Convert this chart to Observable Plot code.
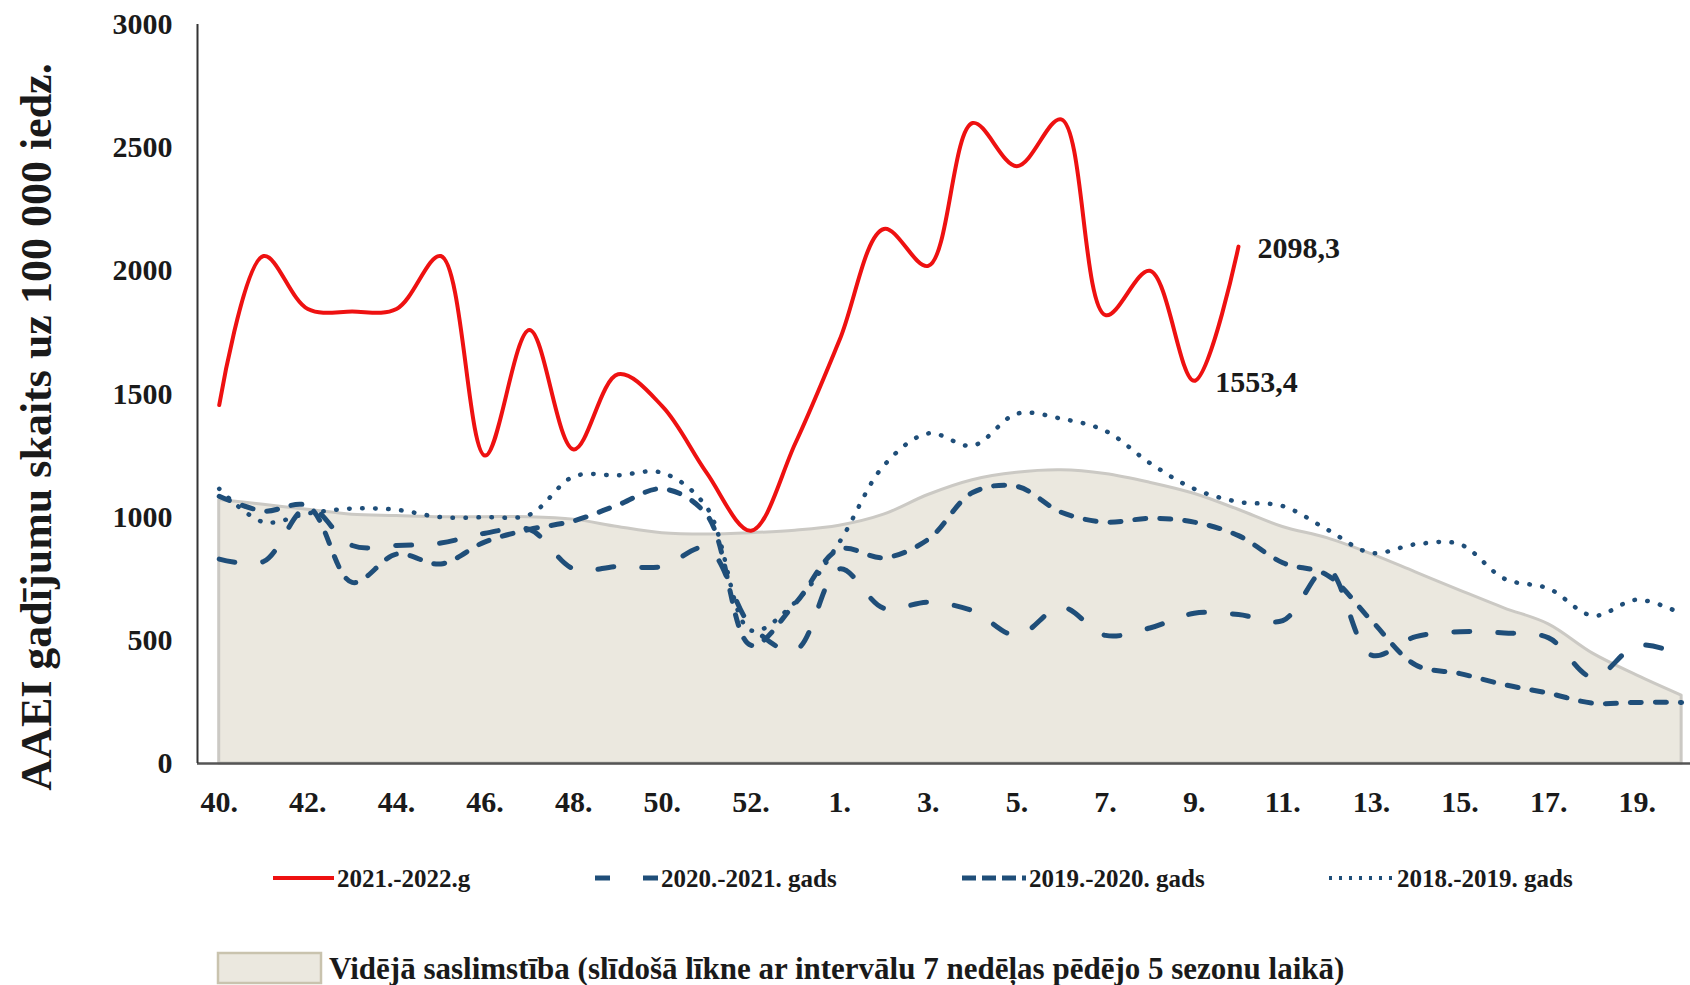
<!DOCTYPE html>
<html><head><meta charset="utf-8">
<script src="https://cdn.jsdelivr.net/npm/d3@7"></script>
<script src="https://cdn.jsdelivr.net/npm/@observablehq/plot@0.6"></script>
<style>
body{margin:0;background:#fff;}
#chart{width:1690px;height:985px;position:relative;overflow:hidden;background:#fff}
</style></head><body><div id="chart"></div>
<script>
// Week categories (season: week 40 .. 53, 1 .. 20)
const weeks = [40,41,42,43,44,45,46,47,48,49,50,51,52,53,1,2,3,4,5,6,7,8,9,10,11,12,13,14,15,16,17,18,19,20];
const yTicks = [0,500,1000,1500,2000,2500,3000];
const seriesNames = ["2021.-2022.g","2020.-2021. gads","2019.-2020. gads","2018.-2019. gads"];
const avgName = "Vidējā saslimstība (slīdošā līkne ar intervālu 7 nedēļas pēdējo 5 sezonu laikā)";
const yTitle = "AAEI gadījumu skaits uz 100 000 iedz.";

// Series values (per week, same order as weeks)
const s2122 = [1455,2060,1845,1835,1845,2060,1250,1760,1275,1580,1450,1180,945,1300,1720,2170,2020,2600,2425,2615,1820,2000,1553.4,2098.3];
const s2021 = [830,820,1040,885,885,895,935,950,790,800,800,875,560,460,790,630,655,620,520,635,520,550,610,605,580,790,440,515,535,530,510,350,480,440];
const s1920 = [1085,1025,1045,735,850,810,900,950,985,1050,1115,1010,480,650,870,835,910,1100,1125,1020,980,995,980,925,815,765,580,400,365,320,285,245,248,248];
const s1819 = [1115,980,1015,1035,1030,1000,1000,1010,1165,1170,1180,1040,540,655,900,1210,1340,1290,1420,1400,1350,1220,1115,1062,1045,950,855,890,890,750,710,600,665,608];
const avg   = [1070,1050,1030,1010,1005,1000,1000,1000,990,960,935,930,935,945,965,1010,1090,1150,1180,1190,1175,1140,1095,1030,960,915,850,776,702,630,565,446,357,276];

const toRows = arr => arr.map((v,i)=>({i, v}));
const xTicks = weeks.map((w,i)=>i).filter(i => i % 2 === 0);
const fmtComma = v => String(v).replace(".", ",");

const FONT = "'Liberation Serif','Times New Roman',serif";
const NAVY = "#1f4e79";
const RED = "#ee1111";
const FILL = "#ebe8df";

const plot = Plot.plot({
  width: 1690, height: 840,
  marginLeft: 197, marginRight: 0, marginTop: 24, marginBottom: 77,
  style: {fontFamily: FONT, fontWeight: "bold", fontSize: "30px", color: "#1a1a1a", background: "white", overflow: "visible"},
  x: {type: "linear", domain: [-0.49, 33.2], ticks: xTicks, tickFormat: i => weeks[i] + ".", tickSize: 0, tickPadding: 27, label: null},
  y: {domain: [0, 3000], ticks: yTicks, tickFormat: d => String(d), tickSize: 0, tickPadding: 25, label: null},
  marks: [
    Plot.areaY(toRows(avg), {x: "i", y: "v", fill: FILL, stroke: "#cbc9c4", strokeWidth: 3, curve: "catmull-rom"}),
    Plot.lineY(toRows(s1819), {x: "i", y: "v", stroke: NAVY, strokeWidth: 4.5, strokeDasharray: "0.5,12.5", strokeLinecap: "round", curve: "catmull-rom"}),
    Plot.lineY(toRows(s1920), {x: "i", y: "v", stroke: NAVY, strokeWidth: 5, strokeDasharray: "11,14", strokeLinecap: "round", curve: "catmull-rom"}),
    Plot.lineY(toRows(s2021), {x: "i", y: "v", stroke: NAVY, strokeWidth: 5, strokeDasharray: "16,28", strokeLinecap: "round", curve: "catmull-rom"}),
    Plot.lineY(toRows(s2122), {x: "i", y: "v", stroke: RED, strokeWidth: 4, curve: "catmull-rom"}),
    Plot.ruleY([0], {stroke: "#555", strokeWidth: 2.5}),
    Plot.ruleX([-0.49], {y1: 0, y2: 3000, stroke: "#333", strokeWidth: 2}),
    Plot.text([s2122.length - 1], {x: d => d, y: d => s2122[d], text: d => fmtComma(s2122[d]), textAnchor: "start", dx: 19, dy: 2, fontSize: 30, fontWeight: "bold", fill: "#1a1a1a"}),
    Plot.text([s2122.length - 2], {x: d => d, y: d => s2122[d], text: d => fmtComma(s2122[d]), textAnchor: "start", dx: 21, dy: 2, fontSize: 30, fontWeight: "bold", fill: "#1a1a1a"}),
    Plot.text([yTitle], {frameAnchor: "left", dx: -161, dy: 33, rotate: -90, textAnchor: "middle", lineAnchor: "middle", text: d => d, fontSize: 44, fontWeight: "bold", fill: "#1a1a1a"})
  ]
});
plot.style.display = "block";
document.getElementById("chart").appendChild(plot);

// Legend below the plot
const leg = d3.select("#chart").append("svg")
  .attr("width", 1690).attr("height", 145)
  .style("display", "block")
  .style("font-family", FONT).style("font-weight", "bold").style("fill", "#1a1a1a");

const items = [
  {x1: 273, x2: 334, tx: 337, stroke: RED, w: 4, dash: null, cap: "butt"},
  {x1: 595, x2: 660, tx: 661, stroke: NAVY, w: 5, dash: "15,33", cap: "butt"},
  {x1: 962, x2: 1026, tx: 1029, stroke: NAVY, w: 5, dash: "14,6", cap: "butt"},
  {x1: 1329, x2: 1393, tx: 1397, stroke: NAVY, w: 4, dash: "3,7", cap: "butt"}
];
items.forEach((it, k) => {
  leg.append("line").attr("x1", it.x1).attr("x2", it.x2).attr("y1", 38).attr("y2", 38)
    .attr("stroke", it.stroke).attr("stroke-width", it.w)
    .attr("stroke-dasharray", it.dash).attr("stroke-linecap", it.cap);
  leg.append("text").attr("x", it.tx).attr("y", 38).attr("dy", "0.35em")
    .attr("font-size", 25).attr("fill", "#1a1a1a").text(seriesNames[k]);
});
leg.append("rect").attr("x", 218).attr("y", 113).attr("width", 103).attr("height", 30)
  .attr("fill", FILL).attr("stroke", "#c9c3ae").attr("stroke-width", 2.5);
leg.append("text").attr("x", 329).attr("y", 128).attr("dy", "0.35em")
  .attr("font-size", 31).attr("fill", "#1a1a1a").text(avgName);
</script>
</body></html>
